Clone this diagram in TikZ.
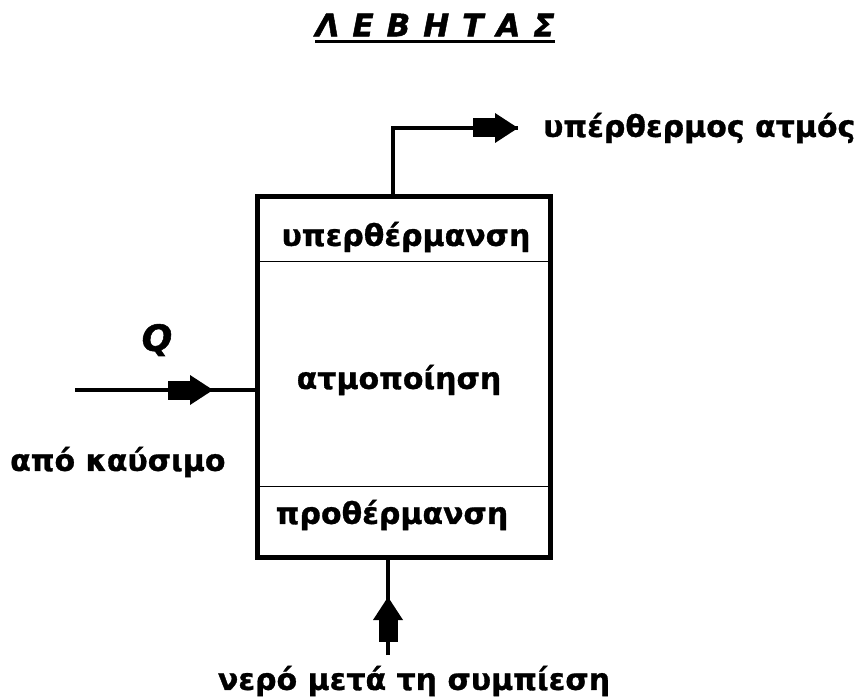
\documentclass[tikz,border=0pt]{standalone}
\usepackage{fontspec}
\setmainfont{DejaVu Sans}[BoldFeatures={FakeBold=1},BoldItalicFeatures={FakeBold=1.5}]
\usetikzlibrary{decorations.markings}

\begin{document}
\begin{tikzpicture}[x=1pt,y=-1pt,
  every node/.style={inner sep=0pt,font=\fontsize{30}{36}\selectfont\bfseries},
  pipe/.style={line width=4.5pt},
  section/.style={line width=1pt},
  flowmark/.style={postaction={decorate},decoration={markings,mark=at position #1 with {
      \fill (-45pt,-9.5pt) rectangle (-23pt,9.5pt);
      \fill (-23pt,-15pt) -- (0pt,0pt) -- (-23pt,15pt) -- cycle;}}}]
  \useasboundingbox (0,0) rectangle (861,700);
  % title
  \node[font=\fontsize{31}{36}\selectfont\bfseries\itshape] (title) at (435,25) {\spaceskip=13pt Λ Ε Β Η Τ Α Σ};
  \draw[line width=2.5pt] ([yshift=-5pt]title.south west) -- ([yshift=-5pt]title.south east);
  % boiler with its three sections
  \node[draw,line width=4.5pt,minimum width=293pt,minimum height=361pt] (boiler) at (404,377) {};
  \draw[section] (boiler.west |- 0,262) -- (boiler.east |- 0,262);
  \draw[section] (boiler.west |- 0,486) -- (boiler.east |- 0,486);
  \node (superheat) at (406,237) {υπερθέρμανση};
  \node (evap) at (399,380) {ατμοποίηση};
  \node (preheat) at (392,515) {προθέρμανση};
  % steam out
  \coordinate (steamtop) at (393,128);
  \coordinate (steamend) at (518,128);
  \draw[pipe,flowmark=1] (boiler.north -| steamtop) -- (steamtop) -- (steamend);
  \node[anchor=west] (steamlbl) at (543,128) {υπέρθερμος ατμός};
  % heat in
  \coordinate (fuel) at (75,390);
  \draw[pipe,flowmark=138pt] (fuel) -- (fuel -| boiler.west);
  \node[font=\fontsize{36}{40}\selectfont\bfseries\itshape] (heat) at (157,340) {Q};
  \node[anchor=west] (fuellbl) at (10,462) {από καύσιμο};
  % feed water in
  \coordinate (water) at (388,655);
  \draw[pipe,flowmark=58pt] (water) -- (water |- boiler.south);
  \node (waterlbl) at (414,681) {νερό μετά τη συμπίεση};
\end{tikzpicture}
\end{document}
